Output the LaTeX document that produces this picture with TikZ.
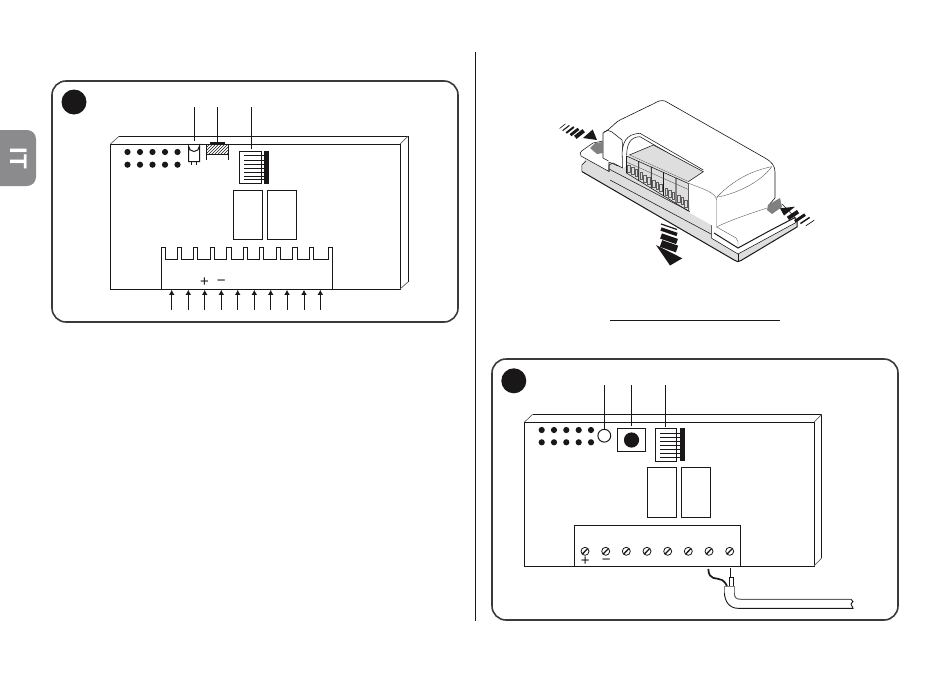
\documentclass[tikz,border=0pt]{standalone}
\usepackage{fontspec}
\setmainfont{Liberation Sans}
\usetikzlibrary{arrows.meta,patterns}
\definecolor{ink}{HTML}{1A1718}
\definecolor{panel}{HTML}{3A3A3C}
\definecolor{tabgray}{HTML}{8B8B8E}
\definecolor{platefill}{HTML}{DEDEDF}
\definecolor{clipgray}{HTML}{808083}
\tikzset{
  paneledge/.style={draw=panel,line width=1.6pt,rounded corners=14pt},
  board/.style={draw=ink,line width=1pt,line join=miter},
  bevel/.style={draw=ink!70,line width=.7pt},
  leader/.style={draw=ink,line width=1pt},
  thin3d/.style={draw=ink,line width=.55pt},
  soft3d/.style={draw=ink!70,line width=.4pt},
  heavy3d/.style={draw=ink,line width=1pt},
  badge/.style={fill=ink,draw=none,circle,minimum size=25pt,inner sep=0pt},
  pinarrow/.style={draw=ink,line width=.8pt,-{Latex[length=5pt,width=5.5pt]}},
  sign/.style={font=\fontsize{15}{15}\selectfont,text=ink,inner sep=0pt},
}
\begin{document}
\begin{tikzpicture}[x=1pt,y=-1pt]
\useasboundingbox (0,0) rectangle (950,672);
% language tab
\fill[tabgray,rounded corners=9pt] (-14,130) rectangle (36,186);
\node[rotate=-90,text=white,font=\fontsize{24}{24}\selectfont\bfseries,inner sep=0pt] (lang) at (18.5,158) {IT};
% divider
\coordinate (divA) at (475.5,52); \coordinate (divB) at (475.5,621);
\draw[draw=ink,line width=.9pt] (divA) -- (divB);
% underline
\coordinate (ulA) at (610,320); \coordinate (ulB) at (780,320);
\draw[draw=ink,line width=.9pt] (ulA) -- (ulB);

%% LEFT PANEL
\draw[paneledge] (52,81) rectangle (458,322);
\node[badge] (badgeL) at (74,102) {};
% board
\draw[board] (110.5,289) -- (110.5,144) -- (400,144) -- (400,289) -- cycle;
\draw[board] (119,136.3) -- (408,136.3) -- (408,282);
\draw[bevel] (110.5,144) -- (119,136.3) (400,144) -- (408,136.3) (408,282) -- (400,289);
\foreach \x in {127.5,140,152.5,165,177.5}
  \foreach \y in {152,164.7} \fill[ink] (\x,\y) circle (3.1);
% LED
\draw[board,fill=white] (188.5,161.5) -- (188.5,146) arc[start angle=180,end angle=0,radius=5.5] -- (199.5,161.5) -- cycle;
\draw[leader,line width=.7pt] (191.7,161.5) -- (191.7,165) (196.2,161.5) -- (196.2,165);
\coordinate (ledA) at (194,107); \coordinate (ledB) at (194,140.5);
\draw[leader] (ledA) -- (ledB);
% jumper
\fill[ink] (210,141.8) rectangle (225,144.8);
\fill[pattern=north east lines,pattern color=ink] (206.5,145) rectangle (228.5,154);
\draw[board,line width=.8pt] (206.3,144.5) -- (206.3,160) (228.6,144.5) -- (228.6,160) (206.3,154.2) -- (228.6,154.2);
\coordinate (jmpA) at (217.3,107); \coordinate (jmpB) at (217.3,142);
\draw[leader] (jmpA) -- (jmpB);
% dip
\draw[board,fill=white] (239.5,151) rectangle (261,183.5);
\fill[ink] (264,151) rectangle (269,184);
\foreach \y in {155.7,160,164,168,172,176,179.5} \draw[leader,line width=.8pt] (244,\y) -- (264,\y);
\coordinate (dipA) at (251.3,107); \coordinate (dipB) at (251.3,149);
\draw[leader] (dipA) -- (dipB);
% relays
\draw[board] (233.3,190) rectangle (262.7,239.3);
\draw[board] (267.3,190) rectangle (296.5,239.3);
% terminal
\draw[board] (161.7,289) -- (161.7,247.3) -- (165.7,247.3) -- (165.7,259.3)
  -- (177.7,259.3) -- (177.7,247.3) -- (181.7,247.3) -- (181.7,259.3)
  -- (193.7,259.3) -- (193.7,247.3) -- (197.7,247.3) -- (197.7,259.3)
  -- (210,259.3) -- (210,247.3) -- (214.3,247.3) -- (214.3,259.3)
  -- (226.7,259.3) -- (226.7,247.3) -- (231,247.3) -- (231,259.3)
  -- (243,259.3) -- (243,247.3) -- (247,247.3) -- (247,259.3)
  -- (259.7,259.3) -- (259.7,247.3) -- (263.7,247.3) -- (263.7,259.3)
  -- (276,259.3) -- (276,247.3) -- (280.3,247.3) -- (280.3,259.3)
  -- (292.7,259.3) -- (292.7,247.3) -- (297,247.3) -- (297,259.3)
  -- (309,259.3) -- (309,247.3) -- (313.3,247.3) -- (313.3,259.3)
  -- (328.3,259.3) -- (328.3,247.3) -- (332.3,247.3) -- (332.3,289);
% arrows
\foreach \x in {171.7,188.3,204.7,221.3,237.7,254.3,270.7,287,304,320.3}
  \draw[pinarrow] (\x,309.5) -- (\x,289.8);
\node[sign] (plusL) at (204.6,282.3) {+};
\node[sign] (minusL) at (221.3,282.3) {−};

%% RIGHT PANEL
\draw[paneledge] (492,359) rectangle (898,620);
\node[badge] (badgeR) at (513.8,380.8) {};
\draw[board] (524.7,566) -- (524.7,422) -- (814,422) -- (814,566) -- cycle;
\draw[board] (532.5,414.3) -- (821.7,414.3) -- (821.7,558);
\draw[bevel] (524.7,422) -- (532.5,414.3) (814,422) -- (821.7,414.3) (821.7,558) -- (814,566);
\foreach \x in {541.7,554,566.3,578.7,591}
  \foreach \y in {430,442.3} \fill[ink] (\x,\y) circle (3.1);
\draw[board] (604.3,435.7) circle (6.4);
\coordinate (ledC) at (604.3,385); \coordinate (ledD) at (604.3,428.8);
\draw[leader] (ledC) -- (ledD);
\draw[board] (617.3,428.3) rectangle (645.7,451.3);
\fill[ink] (631.5,440) circle (7.6);
\coordinate (btnA) at (631.5,385); \coordinate (btnB) at (631.5,426);
\draw[leader] (btnA) -- (btnB);
\draw[board] (655,428.3) rectangle (676.7,461);
\fill[ink] (680,428) rectangle (684.8,461);
\foreach \y in {433,437,441,445,449,453,457} \draw[leader,line width=.8pt] (660,\y) -- (680,\y);
\coordinate (dipC) at (665.3,385); \coordinate (dipD) at (665.3,427);
\draw[leader] (dipC) -- (dipD);
\draw[board] (647.3,467.3) rectangle (676.7,517.3);
\draw[board] (681.3,467.3) rectangle (710.8,517.3);
\draw[board] (574.3,566) -- (574.3,525.3) -- (740.3,525.3) -- (740.3,566);
\foreach \x in {585,605.7,626.3,647,667.7,688.3,709,729.7}{
  \draw[draw=ink,line width=.8pt] (\x,551.3) circle (4);
  \draw[draw=ink,line width=1.3pt] ({\x-2.6},554) -- ({\x+2.6},548.6);
}
\node[sign] (plusR) at (585.3,561.3) {+};
\node[sign] (minusR) at (606.3,561.3) {−};
% cable
\draw[draw=ink,line width=1.7pt] (708.3,569) .. controls (709,581) and (716,577) .. (722,580) .. controls (725,582) and (726,584) .. (727,586);
\draw[draw=ink,line width=.8pt] (730.6,568) -- (730.6,577);
\draw[draw=ink,line width=.8pt,fill=white] (729,577) rectangle (733,586);
\draw[draw=ink,line width=.9pt] (724.4,592) .. controls (724.4,602) and (730,608.3) .. (738,608.3) -- (853,608.3) -- (851,604) -- (853,601.5) -- (851,599.3);
\draw[draw=gray,line width=1pt] (724.4,593) -- (724.4,586) -- (734.4,586) -- (734.4,593);
\draw[draw=gray!75!black,line width=1pt] (734.4,593) .. controls (734.4,597.5) and (736,599.3) .. (741,599.3) -- (851,599.3);

%% MODULE
% lower plate
\fill[platefill] (582,165) -- (582,171.5) -- (735,260.5) .. controls (737,262) and (739,262) .. (741,260.5) -- (797,227) -- (797,219) -- (700,170) -- (590,150) -- cycle;
\draw[thin3d] (581.8,171) -- (581.8,165) -- (586,161);
\draw[heavy3d] (581.8,171.5) -- (735,260.5) .. controls (737,262) and (739,262) .. (741,260.5) -- (797,227) -- (797,219);
\draw[thin3d] (738.3,254) -- (738.3,261);
% thin lines on gray
\draw[thin3d] (610,180) -- (711,234);
\draw[thin3d] (609,169) -- (711.7,223);
% white plate right
\fill[white] (711.7,222) -- (711.7,238) -- (738,254) -- (796,222) -- (796,217) -- (780,197) -- (740,200) -- cycle;
\draw[thin3d] (711.7,223) -- (711.7,238.3) -- (738,254) -- (796,222.5);
\draw[heavy3d] (714,233) -- (738,248) -- (771,230) -- (795,217.5) -- (796,222.5);
\draw[thin3d] (782,204) -- (795,217.5);
% white plate left
\filldraw[fill=white,thin3d] (603,141) -- (593,143) -- (583,150) .. controls (580,152) and (579.5,154) .. (581,156) -- (609,171.5) -- (609,162) -- (618,166) -- (618,145) -- cycle;
% module body fill, then its upper outline only
\fill[white]
  (603,133) .. controls (612,128) and (613,124) .. (620,120) -- (654,103.5) .. controls (658,101) and (661,100) .. (665,101) -- (765,158) .. controls (772,162) and (775,166) .. (775,172) -- (775,198) -- (767,209) -- (738,243) -- (716.7,228) -- (690,213) -- (688,183) -- (640,158) -- (623,168) -- (618,165) -- (610,161) -- (609,162) -- (603,160) -- cycle;
\draw[draw=ink,line width=.6pt]
  (603,133) .. controls (612,128) and (613,124) .. (620,120) -- (654,103.5) .. controls (658,101) and (661,100) .. (665,101) -- (765,158) .. controls (772,162) and (775,166) .. (775,172) -- (775,198) -- (768,206);
\draw[thin3d] (604,132) .. controls (606,130) and (608,130) .. (612,132) -- (622,140) .. controls (622.5,143) and (622.7,150) .. (622.7,168) -- (613,163) -- (609,165) -- (609,171.5);
\draw[thin3d] (603,133) -- (603,158) -- (608.5,161);
% lens and body edges
\draw[soft3d] (716.7,197.3) .. controls (735,178) and (755,170) .. (771.7,166.7);
\draw[soft3d] (716.7,197.3) .. controls (735,194) and (760,183) .. (771.7,166.7);
\draw[soft3d] (688,183) .. controls (700,188) and (716,192) .. (716.7,200) -- (716.7,227);
\draw[soft3d] (716.7,227) .. controls (730,220) and (755,212) .. (767,208);
\draw[soft3d] (716.7,227) -- (736,238) -- (738,241.5) -- (738,248);
% roof band
\fill[white] (622,156) .. controls (622,142) and (626,134) .. (640,133) -- (703,170) -- (688,183) -- cycle;
\draw[thin3d] (622,157) .. controls (622,142) and (626,134) .. (640,133.3) -- (703.3,170);
\draw[thin3d] (626.7,155) .. controls (626.7,145) and (630,136.7) .. (640,136.7) -- (700,171.5);
% roof
\filldraw[fill=platefill,thin3d] (629.3,155) -- (653.3,145) -- (703.3,171.7) -- (688.3,181.7) -- cycle;
% terminal blocks
\fill[platefill] (626,157) -- (629.3,155) -- (688.3,181.7) -- (688.3,208) -- (626,173) -- cycle;
\foreach \i in {0,...,4}{
  \pgfmathsetmacro{\bx}{626.5+12.4*\i}
  \pgfmathsetmacro{\by}{156+5.5*\i}
  \pgfmathsetmacro{\bh}{17+2.1*\i}
  \draw[thin3d] (\bx,\by) -- ({\bx+12.2},{\by+5.5}) -- ({\bx+12.2},{\by+5.5+\bh+2.1}) -- (\bx,{\by+\bh}) -- cycle;
  \draw[soft3d] (\bx,{\by+6}) -- ({\bx+12.2},{\by+11.5});
  \foreach \k in {0,1,2}{
    \draw[soft3d] ({\bx+1+3.6*\k},{\by+\bh-8+2.2*\k}) rectangle ({\bx+3.6+3.6*\k},{\by+\bh-1+2.2*\k});
  }
}
% clip tabs
\fill[clipgray] (590,148) -- (595,143) -- (603,142) -- (603,153) -- (597,154) -- cycle;
\fill[clipgray] (767,210) -- (768,205) -- (780,198) -- (782,207) -- (772,214) -- cycle;
% left arrow
\fill[ink] (592.7,129.5) -- (597,140) -- (583,138) -- cycle;
\foreach \cx/\cy/\w/\l in {562.5/126.2/.6/7,566/128/1.1/8,570/130/1.9/9,574.5/132/2.8/9.5,579.5/134/4/10}
  \draw[draw=ink,line width=\w pt] ({\cx-\l*.42},{\cy+\l*.33}) -- ({\cx+\l*.42},{\cy-\l*.33});
% right arrow
\fill[ink] (780,208.3) -- (795,206.7) -- (784,215.5) -- cycle;
\foreach \cx/\cy/\w/\l in {793/215/4/12,800/218/3/12,805/220.5/1.5/11,810/223/.7/10}
  \draw[draw=ink,line width=\w pt] ({\cx-\l*.42},{\cy+\l*.28}) -- ({\cx+\l*.42},{\cy-\l*.28});
% down arrow
\fill[ink] (656,245) -- (682.3,258.3) -- (670,265.5) -- cycle;
\foreach \ya/\w in {224/1.2,229/3.5,236/5.5,243.5/7}
  \draw[draw=ink,line width=\w pt] (661,\ya) -- (677,{\ya+5.5});
\end{tikzpicture}
\end{document}
